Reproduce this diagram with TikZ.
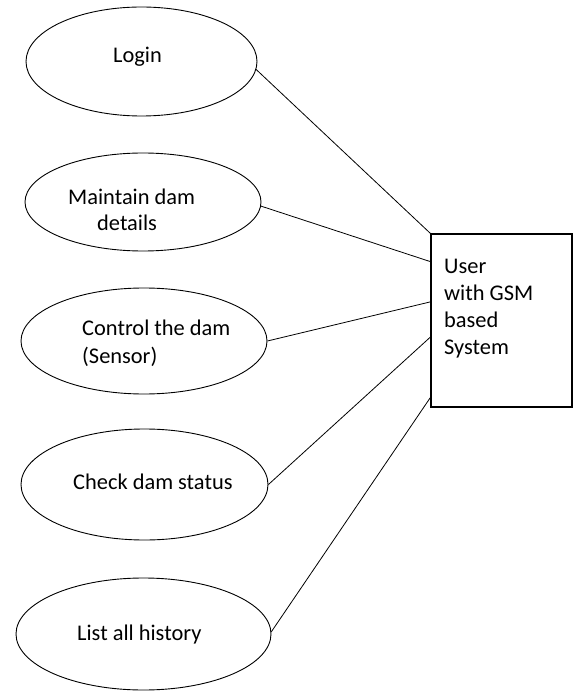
\documentclass[tikz,border=0pt]{standalone}
\usepackage{fontspec}
\setmainfont{Carlito}
\usetikzlibrary{shapes.geometric,calc}
\begin{document}
\begin{tikzpicture}[x=1pt,y=-1pt,
  usecase/.style={draw,ellipse,line width=0.9pt,inner sep=0pt},
  actorbox/.style={draw,rectangle,line width=1.2pt,inner sep=0pt,minimum width=141pt,minimum height=173pt},
  lbl/.style={anchor=base west,inner sep=0pt,font=\fontsize{22.4}{27}\selectfont,align=left},
  link/.style={line width=0.8pt}]
\useasboundingbox (0,0) rectangle (574,692);

% use cases
\node[usecase,minimum width=231pt,minimum height=109pt] (login) at (141.5,61.5) {};
\node[usecase,minimum width=236pt,minimum height=98pt]  (maint) at (143,202) {};
\node[usecase,minimum width=246pt,minimum height=106pt] (ctrl)  at (144,341) {};
\node[usecase,minimum width=247pt,minimum height=111pt] (check) at (144.5,484.5) {};
\node[usecase,minimum width=255pt,minimum height=112pt] (hist)  at (143.5,634) {};

% actor / system box
\node[actorbox] (sys) at (501.5,320.5) {};

% labels (multi-line labels are placed by the baseline of their last line)
\node[lbl] (tlogin) at (113,63) {Login};
\node[lbl] (tmaintA) at (68,205) {Maintain dam};
\node[lbl] (tmaintB) at (97,231) {details};
\node[lbl,font=\fontsize{22.4}{28}\selectfont] (tctrl) at (82,363) {Control the dam\\(Sensor)};
\node[lbl] (tcheck) at (73,489) {Check dam status};
\node[lbl] (thist) at (77,640) {List all history};
\node[lbl] (tsys) at (444,354) {User\\with GSM\\based\\System};

% associations
\draw[link] (login.-4.2) -- (sys.north west);
\draw[link] (maint.-2.9) -- ($(sys.north west)!0.162!(sys.south west)$);
\draw[link] (ctrl.-0.5) -- ($(sys.north west)!0.393!(sys.south west)$);
\draw[link] (check.0.7) -- ($(sys.north west)!0.595!(sys.south west)$);
\draw[link] (hist.1.8) -- ($(sys.north west)!0.942!(sys.south west)$);
\end{tikzpicture}
\end{document}
